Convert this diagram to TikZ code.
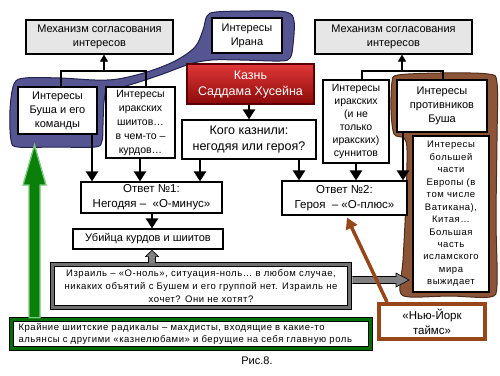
\documentclass[tikz,border=0pt]{standalone}
\usepackage{fontspec}
\setmainfont{Liberation Sans}
\newfontfamily\spc[LetterSpace=6]{Liberation Sans}
\usetikzlibrary{arrows.meta,calc}
\newcommand\fsz[2]{\fontsize{#1}{#2}\selectfont}
\definecolor{blobblue}{RGB}{85,85,145}
\definecolor{blobblueline}{RGB}{35,35,80}
\definecolor{blobbrown}{RGB}{140,85,55}
\definecolor{blobbrownline}{RGB}{80,45,25}
\definecolor{mechgray}{RGB}{230,230,230}
\definecolor{arrgray}{RGB}{128,128,128}
\definecolor{boxgray}{RGB}{112,112,112}
\definecolor{darkgreen}{RGB}{0,110,0}
\definecolor{arrgreen}{RGB}{10,128,10}
\definecolor{lightgreen}{RGB}{120,205,120}
\definecolor{nytbrown}{RGB}{150,70,25}
\definecolor{redtop}{RGB}{225,55,55}
\definecolor{redbot}{RGB}{140,10,10}
\definecolor{redline}{RGB}{90,0,0}
\begin{document}
\begin{tikzpicture}[x=1pt,y=-1pt,
  box/.style={draw=black, line width=1.2pt, fill=white, align=center, inner sep=0pt, font=\fsz{11}{14}},
  thinline/.style={line width=1.2pt},
  thinarr/.style={line width=1.2pt, -{Triangle[width=8pt,length=7pt]}},
  bigarr/.style={line width=2.8pt, -{Triangle[width=12pt,length=10pt]}},
  blockarr/.style={draw=black, line width=0.6pt, fill=arrgray},
]
\useasboundingbox (0,0) rectangle (500,375);
\fill[white] (0,0) rectangle (500,375);

% blue blob
\draw[fill=blobblue, draw=blobblueline, line width=1pt]
  plot[smooth cycle, tension=0.55] coordinates {
  (14,84) (25,78) (60,78) (95,80) (118,79) (147,72) (175,61) (195,47) (203,30) (207,16)
  (216,12) (250,11) (286,12) (294,21) (293,45) (290,58) (280,61) (240,60) (212,60)
  (190,64) (160,75) (126,86) (108,89) (104,102) (103,125) (102,141) (95,147)
  (55,147) (18,147) (11,140) (10,110)};

% brown blob
\draw[fill=blobbrown, draw=blobbrownline, line width=1pt]
  plot[smooth cycle, tension=0.5] coordinates {
  (392,82) (398,75) (440,73) (488,74) (497,83) (497,140) (496,220) (497,285)
  (490,297) (450,296) (410,297) (400,291) (403,260) (406,200) (407,150) (404,138)
  (394,134) (391,110)};

% boxes
\node[box, fill=mechgray, minimum width=147pt, minimum height=34pt] (mechL) at (99.5,37) {Механизм согласования\\интересов};
\node[box, minimum width=70pt, minimum height=35pt] (iran) at (247,35.5) {Интересы\\Ирана};
\node[box, draw=redline, top color=redtop, bottom color=redbot, text=white, font=\fsz{12.5}{16}, minimum width=127pt, minimum height=40pt] (kazn) at (250.5,84) {Казнь\\Саддама Хусейна};
\node[box, font=\fsz{12.5}{16}, minimum width=134pt, minimum height=39pt] (kogo) at (249,139.5) {Кого казнили:\\негодяя или героя?};
\node[box, minimum width=79pt, minimum height=47pt] (bush) at (57.5,110.5) {Интересы\\Буша и его\\команды};
\node[box, font=\fsz{10.5}{14}, minimum width=69pt, minimum height=71pt] (shia) at (140.5,122.5) {Интересы\\иракских\\шиитов…\\в чем-то –\\курдов…};
\node[box, fill=mechgray, minimum width=157pt, minimum height=34pt] (mechR) at (393.5,37) {Механизм согласования\\интересов};
\node[box, font=\fsz{10.5}{13}, minimum width=66pt, minimum height=83pt] (sunni) at (356,121.5) {Интересы\\иракских\\(и не\\только\\иракских)\\суннитов};
\node[box, minimum width=90pt, minimum height=52pt] (anti) at (442,106) {Интересы\\противников\\Буша};
\node[box, font=\spc\fsz{9.5}{12.45}, minimum width=76pt, minimum height=156pt] (europe) at (451,214) {Интересы\\большей\\части\\Европы (в\\том числе\\Ватикана),\\Китая…\\Большая\\часть\\исламского\\мира\\выжидает};
\node[box, font=\fsz{11.5}{15}, minimum width=141pt, minimum height=31pt] (otvet1) at (151.5,197.5) {Ответ №1:\\Негодяя –\ \ «О-минус»};
\node[box, font=\fsz{11}{15}, minimum width=150pt, minimum height=20pt] (ubiy) at (148,239) {Убийца курдов и шиитов};
\node[box, font=\fsz{11.5}{15}, minimum width=125pt, minimum height=34pt] (otvet2) at (344.5,198) {Ответ №2:\\Героя\ \ – «О-плюс»};
\node[box, draw=black, line width=0.7pt, double=boxgray, double distance=3.6pt, font=\spc\fsz{9.5}{13}, minimum width=297pt, minimum height=43pt] (israel) at (201,286) {Израиль – «О-ноль», ситуация-ноль… в любом случае,\\никаких объятий с Бушем и его группой нет. Израиль не\\хочет? Они не хотят?};
\node[box, draw=black, line width=0.7pt, double=darkgreen, double distance=3pt, font=\spc\fsz{9.5}{12.5}, align=left, text width=345pt, minimum width=359pt, minimum height=29pt] (green) at (191,334) {Крайние шиитские радикалы – махдисты, входящие в какие-то\\альянсы с другими «казнелюбами» и берущие на себя главную роль};
\node[box, draw=nytbrown, line width=4pt, font=\fsz{11.5}{15}, minimum width=106pt, minimum height=35pt] (nyt) at (432,321.5) {«Нью-Йорк\\таймс»};
\node[font=\fsz{11}{13}, inner sep=0pt] (cap) at (257,361) {Рис.8.};

% tree connectors
\coordinate (xa) at (61,0);
\coordinate (xb) at (146,0);
\coordinate (tl) at (104,71);
\draw[thinline] (bush.north -| xa) -- (xa |- tl) -- (xb |- tl) -- (shia.north -| xb);
\draw[thinarr] (tl) -- (tl |- mechL.south);
\coordinate (xc) at (362,0);
\coordinate (xd) at (443,0);
\coordinate (tr) at (402,71);
\draw[thinline] (sunni.north -| xc) -- (xc |- tr) -- (xd |- tr) -- (anti.north -| xd);
\draw[thinarr] (tr) -- (tr |- mechR.south);

% thick arrows
\coordinate (c1) at (92,0);
\coordinate (c2) at (140,0);
\coordinate (c3) at (200,0);
\coordinate (c4) at (299,0);
\coordinate (c5) at (356,0);
\coordinate (c6) at (403,0);
\coordinate (c7) at (152,0);
\draw[bigarr] (bush.south -| c1) -- (otvet1.north -| c1);
\draw[bigarr] (shia.south -| c2) -- (otvet1.north -| c2);
\draw[bigarr] (kogo.south -| c3) -- (otvet1.north -| c3);
\draw[bigarr] (kogo.south -| c4) -- (otvet2.north -| c4);
\draw[bigarr] (sunni.south -| c5) -- (otvet2.north -| c5);
\draw[bigarr] (anti.south -| c6) -- (otvet2.north -| c6);
\draw[bigarr] (kazn.south -| kogo.north) -- (kogo.north);
\draw[bigarr] (otvet1.south -| c7) -- (ubiy.north -| c7);

% gray block arrow up
\coordinate (gu0) at (israel.north -| c7);
\coordinate (gu1) at (ubiy.south -| c7);
\draw[blockarr] ($(gu0)+(-3.5,-1)$) -- ($(gu1)+(-3.5,7)$) -- ($(gu1)+(-6.5,7)$) -- ($(gu1)+(0,0.6)$)
  -- ($(gu1)+(6.5,7)$) -- ($(gu1)+(3.5,7)$) -- ($(gu0)+(3.5,-1)$);
% gray block arrow right
\coordinate (gt) at (409,280);
\coordinate (gr0) at (israel.east |- gt);
\draw[blockarr] ($(gr0)+(2.5,-3.5)$) -- ($(gt)+(-13,-3.5)$) -- ($(gt)+(-13,-7)$) -- (gt)
  -- ($(gt)+(-13,7)$) -- ($(gt)+(-13,3.5)$) -- ($(gr0)+(2.5,3.5)$);

% green arrow
\coordinate (gtip) at (34.5,145);
\coordinate (gb) at (green.north -| gtip);
\draw[fill=arrgreen, draw=lightgreen, line width=1.3pt]
  ($(gb)+(-5.5,-1.5)$) -- ($(gtip)+(-5.5,40)$) -- ($(gtip)+(-11.5,40)$) -- (gtip)
  -- ($(gtip)+(11.5,40)$) -- ($(gtip)+(5.5,40)$) -- ($(gb)+(5.5,-1.5)$) -- cycle;

% brown arrow
\coordinate (bx1) at (387,0);
\coordinate (bx2) at (347,0);
\draw[nytbrown, line width=3.5pt, -{Triangle[width=12pt,length=11pt]}] (nyt.north -| bx1) -- ($(otvet2.south -| bx2)+(0,2)$);
\end{tikzpicture}
\end{document}
